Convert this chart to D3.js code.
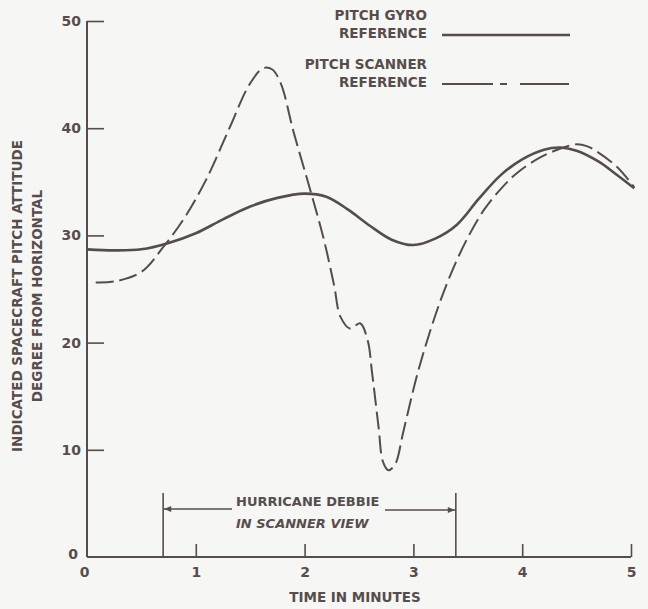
<!DOCTYPE html>
<html>
<head>
<meta charset="utf-8">
<script src="https://cdn.jsdelivr.net/npm/d3@7"></script>
<style>
  html, body { margin: 0; padding: 0; background: #f6f6f4; }
  svg { display: block; }
  text { font-family: "DejaVu Sans", sans-serif; font-weight: bold; fill: #574d4d; }
</style>
</head>
<body>
<svg id="chart" width="648" height="609"></svg>
<script>
// Time (minutes) and pitch attitude (degrees) for the gyro reference
const gyroTime  = [0, 0.25, 0.5, 0.75, 1.0, 1.25, 1.5, 1.75, 2.0, 2.2, 2.4, 2.6, 2.8, 3.0, 3.2, 3.4, 3.6, 3.8, 4.0, 4.2, 4.35, 4.5, 4.7, 4.85, 5.03];
const gyroPitch = [28.7, 28.6, 28.7, 29.3, 30.2, 31.5, 32.7, 33.5, 33.9, 33.6, 32.4, 30.9, 29.6, 29.1, 29.7, 31.0, 33.4, 35.6, 37.1, 38.0, 38.2, 37.9, 36.9, 35.8, 34.4];

// Time (minutes) and pitch attitude (degrees) for the scanner reference
const scanTime  = [0.08, 0.25, 0.5, 0.7, 0.9, 1.1, 1.3, 1.5, 1.62, 1.7, 1.78, 1.9, 2.05, 2.17, 2.27, 2.33, 2.42, 2.51, 2.58, 2.62, 2.68, 2.72, 2.77, 2.83, 2.91, 3.04, 3.2, 3.34, 3.5, 3.65, 3.8, 3.95, 4.17, 4.38, 4.5, 4.6, 4.69, 4.87, 5.03];
const scanPitch = [25.6, 25.7, 26.6, 28.9, 31.7, 35.3, 39.8, 44.2, 45.6, 45.5, 44.2, 39.6, 34.3, 29.9, 25.4, 22.4, 21.3, 21.8, 20.2, 17.2, 12.1, 8.9, 8.1, 8.6, 11.8, 17.2, 22.5, 26.3, 29.8, 32.4, 34.3, 35.8, 37.3, 38.2, 38.5, 38.3, 37.8, 36.4, 34.5];

// Axis ticks
const xTicks = [0, 1, 2, 3, 4, 5];
const yTicks = [0, 10, 20, 30, 40, 50];

// Interval with the hurricane in the scanner's field of view (minutes)
const hurricaneSpan = [0.70, 3.39];

const ink = "#564c4c";
const svg = d3.select("#chart");

const x = d3.scaleLinear().domain([0, 5]).range([87, 631]);
const y = d3.scaleLinear().domain([0, 50]).range([557, 21]);

const styleTickText = sel => sel
  .attr("fill", ink)
  .style("font-size", "14px")
  .style("font-family", '"DejaVu Sans", sans-serif')
  .style("font-weight", "bold");

// Y axis: ticks point inward
const yAxis = d3.axisLeft(y).tickValues(yTicks).tickFormat(d3.format("d"))
  .tickSizeInner(-17).tickSizeOuter(0).tickPadding(6);
const gy = svg.append("g").attr("transform", `translate(${x(0)},0)`).call(yAxis);
gy.select(".domain").attr("stroke", ink).attr("stroke-width", 2).attr("d", `M0,${y(0)}V${y(50)}`);
gy.selectAll(".tick line").attr("stroke", ink).attr("stroke-width", 1.6);
gy.selectAll(".tick").filter(d => d === 0).select("line").remove();
styleTickText(gy.selectAll(".tick text"));
gy.selectAll(".tick").filter(d => d === 0).select("text").attr("dx", -3).attr("dy", "0.1em");

// X axis: ticks point upward
const xAxis = d3.axisBottom(x).tickValues(xTicks).tickFormat(d3.format("d"))
  .tickSizeInner(-13).tickSizeOuter(0).tickPadding(10);
const gx = svg.append("g").attr("transform", `translate(0,${y(0)})`).call(xAxis);
gx.select(".domain").attr("stroke", ink).attr("stroke-width", 2).attr("d", `M${x(0)},0H${x(5)}`);
gx.selectAll(".tick line").attr("stroke", ink).attr("stroke-width", 1.6);
gx.selectAll(".tick").filter(d => d === 0).select("line").remove();
styleTickText(gx.selectAll(".tick text"));
gx.selectAll(".tick").filter(d => d === 0).select("text").attr("dx", -3);

// Axis titles
svg.append("text")
  .attr("x", 355).attr("y", 602)
  .attr("text-anchor", "middle")
  .style("font-size", "13.5px")
  .text("TIME IN MINUTES");

const yTitle = svg.append("text")
  .attr("transform", "translate(22,296) rotate(-90)")
  .attr("text-anchor", "middle")
  .style("font-size", "13.5px");
yTitle.append("tspan").attr("x", 0).attr("dy", 0).text("INDICATED SPACECRAFT PITCH ATTITUDE");
yTitle.append("tspan").attr("x", 0).attr("dy", 20).text("DEGREE FROM HORIZONTAL");

// Curves
const line = d3.line()
  .x(d => x(d[0]))
  .y(d => y(d[1]))
  .curve(d3.curveCatmullRom.alpha(0.5));

const gyro = gyroTime.map((t, i) => [t, gyroPitch[i]]);
const scan = scanTime.map((t, i) => [t, scanPitch[i]]);

svg.append("path")
  .datum(scan)
  .attr("d", line)
  .attr("fill", "none")
  .attr("stroke", ink)
  .attr("stroke-width", 2)
  .attr("stroke-dasharray", "18,6");

svg.append("path")
  .datum(gyro)
  .attr("d", line)
  .attr("fill", "none")
  .attr("stroke", ink)
  .attr("stroke-width", 2.6);

// Legend
const legend = svg.append("g");
const legendRows = [
  { title: ["PITCH GYRO", "REFERENCE"], y0: 20, dash: null },
  { title: ["PITCH SCANNER", "REFERENCE"], y0: 69, dash: "51,7,7,13,49" }
];
legendRows.forEach(r => {
  legend.append("text").attr("x", 427).attr("y", r.y0).attr("text-anchor", "end").style("font-size", "13.5px").text(r.title[0]);
  legend.append("text").attr("x", 427).attr("y", r.y0 + 18).attr("text-anchor", "end").style("font-size", "13.5px").text(r.title[1]);
  legend.append("line")
    .attr("x1", 442).attr("x2", 570)
    .attr("y1", r.y0 + 15).attr("y2", r.y0 + 15)
    .attr("stroke", ink)
    .attr("stroke-width", r.dash ? 2 : 2.4)
    .attr("stroke-dasharray", r.dash);
});

// Hurricane interval annotation
const ann = svg.append("g");
const xa = x(hurricaneSpan[0]), xb = x(hurricaneSpan[1]);
const arrowY = 509;
[xa, xb].forEach(xx => {
  ann.append("line").attr("x1", xx).attr("x2", xx).attr("y1", 493).attr("y2", y(0))
    .attr("stroke", ink).attr("stroke-width", 1.6);
});
ann.append("line").attr("x1", xa).attr("x2", 232).attr("y1", arrowY).attr("y2", arrowY)
  .attr("stroke", ink).attr("stroke-width", 1.6);
ann.append("line").attr("x1", 385).attr("x2", xb).attr("y1", arrowY + 1).attr("y2", arrowY + 1)
  .attr("stroke", ink).attr("stroke-width", 1.6);
ann.append("path").attr("d", `M${xa + 1},${arrowY}l7,-3v6z`).attr("fill", ink);
ann.append("path").attr("d", `M${xb - 1},${arrowY + 1}l-7,-3v6z`).attr("fill", ink);
ann.append("text").attr("x", 236).attr("y", 506).style("font-size", "13px").text("HURRICANE DEBBIE");
ann.append("text").attr("x", 236).attr("y", 528).style("font-size", "13px").style("font-style", "italic").text("IN SCANNER VIEW");
</script>
</body>
</html>
